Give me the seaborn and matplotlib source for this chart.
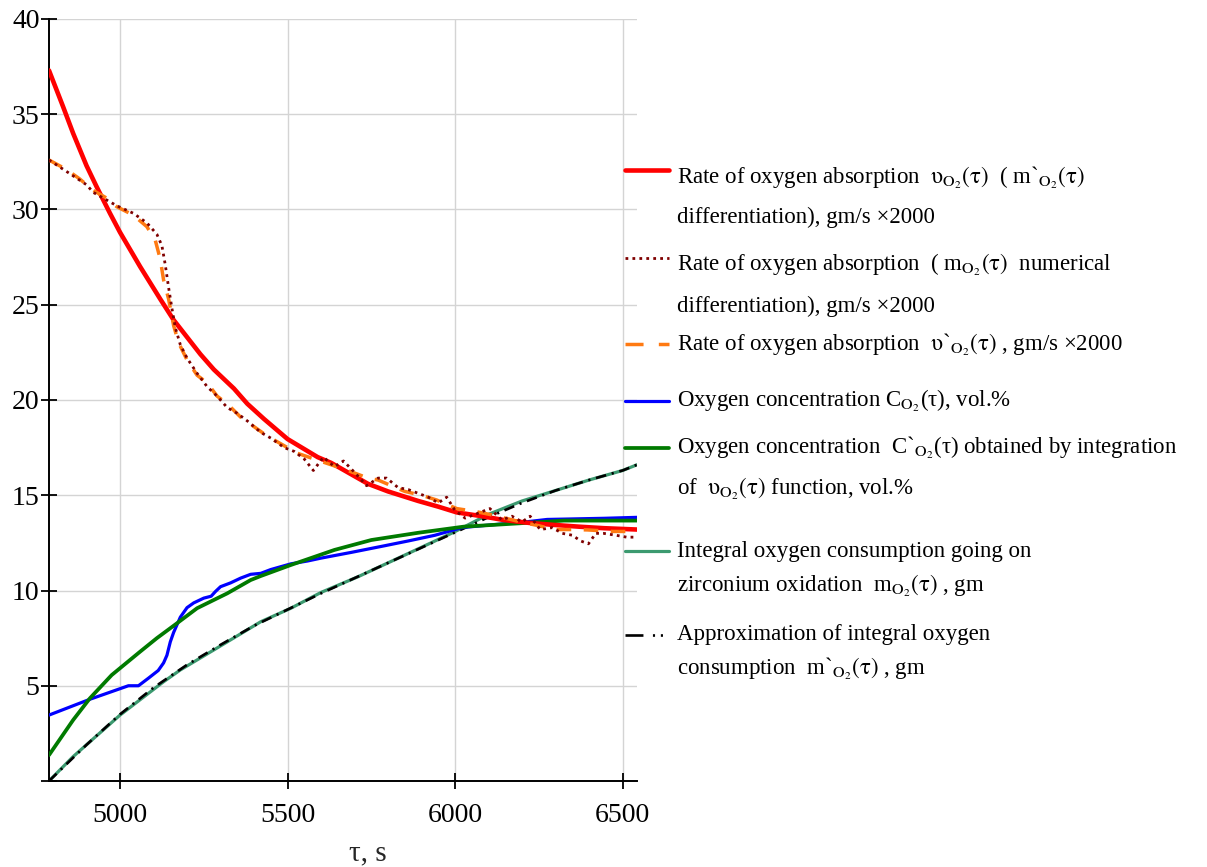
import numpy as np
import pandas as pd
import matplotlib
matplotlib.use("Agg")
import matplotlib.pyplot as plt
from matplotlib.lines import Line2D
import seaborn as sns

# ---------------- data ----------------
tau_red = [4788, 4830, 4860, 4900, 4930, 4970, 5000, 5060, 5120, 5160, 5200, 5240, 5280,
           5340, 5380, 5430, 5500, 5590, 5630, 5680, 5740, 5800, 5890, 5950, 6005, 6080,
           6145, 6220, 6290, 6370, 6445, 6543]
rate_fit = [37.3, 35.4, 34.0, 32.3, 31.2, 29.8, 28.8, 27.0, 25.3, 24.2, 23.3, 22.4, 21.6,
            20.6, 19.8, 19.0, 17.95, 17.0, 16.7, 16.2, 15.6, 15.2, 14.7, 14.4, 14.1, 13.9,
            13.7, 13.55, 13.45, 13.35, 13.27, 13.2]

tau_num = [4788, 4840, 4900, 4920, 4990, 5040, 5080, 5110, 5125, 5135, 5145, 5155, 5165,
           5180, 5200, 5230, 5260, 5290, 5320, 5350, 5380, 5420, 5450, 5490, 5520, 5550,
           5577, 5607, 5640, 5667, 5700, 5736, 5770, 5796, 5830, 5860, 5890, 5920, 5950,
           5975, 6000, 6030, 6060, 6104, 6140, 6170, 6200, 6224, 6254, 6290, 6320, 6350,
           6375, 6398, 6420, 6443, 6480, 6512, 6543]
rate_num = [32.6, 32.0, 31.3, 30.9, 30.2, 29.8, 29.3, 28.7, 28.1, 27.1, 25.9, 24.8, 23.8,
            22.9, 22.2, 21.4, 20.7, 20.2, 19.6, 19.3, 18.9, 18.3, 18.0, 17.5, 17.3, 16.9,
            16.3, 17.0, 16.5, 16.8, 16.2, 15.5, 15.9, 15.9, 15.4, 15.3, 15.1, 14.9, 14.6,
            14.9, 14.2, 13.8, 14.0, 14.3, 13.7, 13.9, 13.6, 13.9, 13.2, 13.3, 13.0, 12.9,
            12.6, 12.45, 13.0, 13.0, 12.9, 12.8, 12.8]

tau_or = [4788, 4840, 4880, 4920, 4960, 4990, 5040, 5080, 5105, 5120, 5130, 5145, 5160,
          5175, 5200, 5230, 5260, 5290, 5320, 5360, 5400, 5440, 5490, 5530, 5580, 5630,
          5680, 5740, 5770, 5850, 5900, 5945, 6005, 6060, 6115, 6195, 6250, 6295, 6350,
          6395, 6470, 6543]
rate_alt = [32.6, 32.1, 31.6, 31.0, 30.6, 30.15, 29.7, 29.1, 28.4, 27.4, 26.3, 25.3, 23.9,
            23.0, 22.1, 21.3, 20.9, 20.2, 19.8, 19.1, 18.6, 18.1, 17.6, 17.2, 16.9, 16.6,
            16.3, 15.9, 15.8, 15.2, 15.0, 14.75, 14.3, 14.15, 13.95, 13.6, 13.4, 13.2, 13.2,
            13.18, 13.1, 13.1]

tau_blue = [4788, 4910, 5025, 5055, 5085, 5114, 5130, 5140, 5150, 5160, 5180, 5200, 5220,
            5250, 5272, 5285, 5300, 5330, 5360, 5390, 5420, 5450, 5510, 5560, 5600, 5690,
            5790, 5860, 5940, 6020, 6080, 6145, 6210, 6275, 6360, 6445, 6543]
conc = [3.46, 4.29, 5.0, 5.0, 5.4, 5.8, 6.2, 6.6, 7.3, 7.8, 8.6, 9.1, 9.35,
        9.6, 9.7, 9.95, 10.2, 10.4, 10.65, 10.85, 10.9, 11.1, 11.4, 11.55, 11.7, 12.0,
        12.35, 12.6, 12.9, 13.3, 13.4, 13.5, 13.6, 13.73, 13.76, 13.79, 13.84]

tau_green = [4788, 4860, 4910, 4975, 5060, 5110, 5170, 5230, 5320, 5390, 5420, 5510, 5640,
             5750, 5890, 6025, 6195, 6325, 6543]
conc_int = [1.36, 3.2, 4.34, 5.56, 6.79, 7.5, 8.28, 9.07, 9.85, 10.55, 10.76, 11.34, 12.13,
            12.65, 13.03, 13.35, 13.53, 13.67, 13.67]

tau_teal = [4788, 4860, 5000, 5130, 5180, 5280, 5420, 5510, 5600, 5710, 5850, 5995, 6100,
            6200, 6300, 6400, 6500, 6543]
mass = [0.0, 1.28, 3.46, 5.21, 5.83, 6.88, 8.36, 9.07, 9.9, 10.72, 11.86, 13.05, 14.0,
        14.7, 15.25, 15.8, 16.3, 16.6]

tau_black = [4788, 4900, 5000, 5100, 5200, 5300, 5400, 5500, 5600, 5700, 5800, 5900, 6000,
             6100, 6200, 6300, 6400, 6500, 6543]
mass_fit = [0.0, 1.9, 3.5, 4.9, 6.1, 7.15, 8.15, 9.0, 9.85, 10.65, 11.45, 12.25, 13.05,
            13.85, 14.6, 15.25, 15.8, 16.3, 16.6]

x_ticks = [5000, 5500, 6000, 6500]
y_ticks = [0, 5, 10, 15, 20, 25, 30, 35, 40]
y_tick_labels = ["", "5", "10", "15", "20", "25", "30", "35", "40"]

U = r"\mathrm{\upsilon}"
T = r"(\mathrm{\tau})"
legend_lines = [
    [r"Rate of oxygen absorption  $" + U + r"_{\mathrm{O}_2}" + T + r"$  ( m`$_{\mathrm{O}_2}" + T + "$",
     "differentiation), gm/s ×2000"],
    [r"Rate of oxygen absorption  ( m$_{\mathrm{O}_2}" + T + "$  numerical",
     "differentiation), gm/s ×2000"],
    [r"Rate of oxygen absorption  $" + U + r"$`$_{\mathrm{O}_2}" + T + "$ , gm/s ×2000"],
    [r"Oxygen concentration C$_{\mathrm{O}_2}$(τ), vol.%"],
    [r"Oxygen concentration  C`$_{\mathrm{O}_2}$(τ) obtained by integration",
     r"of  $" + U + r"_{\mathrm{O}_2}" + T + "$ function, vol.%"],
    ["Integral oxygen consumption going on",
     r"zirconium oxidation  m$_{\mathrm{O}_2}" + T + "$ , gm"],
    ["Approximation of integral oxygen",
     r"consumption  m`$_{\mathrm{O}_2}" + T + "$ , gm"],
]

# ---------------- styling ----------------
sns.set_theme(style="white")
plt.rcParams["font.family"] = ["Liberation Serif", "DejaVu Serif"]
plt.rcParams["mathtext.fontset"] = "stix"

W, H = 1207, 867
fig = plt.figure(figsize=(W / 100, H / 100), dpi=100)
ax = fig.add_axes([49 / W, 1 - 781 / H, (637 - 49) / W, (781 - 19) / H])

C_RED = "#ff0000"
C_MAROON = "#7f0000"
C_ORANGE = "#ff7a12"
C_BLUE = "#0000ff"
C_GREEN = "#007a00"
C_TEAL = "#3c9a70"
C_BLACK = "#000000"

ls_orange = (0, (4.2, 3.6))
ls_dot = (0, (1.0, 1.5))
ls_black = (0, (4.0, 2.2, 0.8, 2.2))

series = [
    (tau_teal, mass, C_TEAL, 2.3, "-", 2),
    (tau_black, mass_fit, C_BLACK, 1.9, ls_black, 3),
    (tau_blue, conc, C_BLUE, 2.3, "-", 4),
    (tau_green, conc_int, C_GREEN, 2.7, "-", 5),
    (tau_red, rate_fit, C_RED, 3.3, "-", 6),
    (tau_or, rate_alt, C_ORANGE, 2.5, ls_orange, 7),
    (tau_num, rate_num, C_MAROON, 2.0, ls_dot, 8),
]
for xs, ys, c, lw, ls, z in series:
    df = pd.DataFrame({"tau": xs, "val": ys})
    sns.lineplot(data=df, x="tau", y="val", ax=ax, color=c, lw=lw,
                 linestyle=ls, zorder=z, estimator=None, sort=False)

ax.set_xlim(4788, 6543)
ax.set_ylim(0, 40)
ax.set_xticks(x_ticks)
ax.set_xticklabels([str(t) for t in x_ticks])
ax.set_yticks(y_ticks)
ax.set_yticklabels(y_tick_labels)
ax.tick_params(axis="both", direction="inout", length=11.5, width=1.3,
               colors="black", labelsize=20, bottom=True, left=True)
ax.tick_params(axis="y", pad=1)
ax.tick_params(axis="x", pad=10)

ax.grid(True, color="#d4d4d4", lw=1.0)
ax.set_axisbelow(True)
for s in ["top", "right"]:
    ax.spines[s].set_visible(False)
for s in ["left", "bottom"]:
    ax.spines[s].set_color("black")
    ax.spines[s].set_linewidth(1.4)

ax.set_ylabel("")
ax.set_xlabel("τ, s", fontsize=21)
ax.xaxis.set_label_coords(0.543, -0.104)
ax.xaxis.label.set_va("baseline")

# ---------------- legend (manual, Mathcad-like layout) ----------------
handle_y = [170, 258, 344, 401, 448, 551, 635]
text_base = [[184, 223], [271, 312], [351], [407], [454, 495], [557, 592], [640, 675]]
handle_styles = [
    dict(color=C_RED, lw=3.3, ls="-"),
    dict(color=C_MAROON, lw=2.0, ls=ls_dot),
    dict(color=C_ORANGE, lw=2.5, ls=(0, (5.2, 4.4))),
    dict(color=C_BLUE, lw=2.3, ls="-"),
    dict(color=C_GREEN, lw=2.7, ls="-"),
    dict(color=C_TEAL, lw=2.3, ls="-"),
    dict(color=C_BLACK, lw=1.9, ls=(0, (6.8, 3.6, 0.8, 2.2, 0.8, 20))),
]
hx0, hx1, tx = 625, 669, 677
for hy, bases, st, lines in zip(handle_y, text_base, handle_styles, legend_lines):
    fig.add_artist(Line2D([hx0 / W, hx1 / W], [1 - hy / H, 1 - hy / H],
                          transform=fig.transFigure, color=st["color"],
                          lw=st["lw"], linestyle=st["ls"]))
    for b, line in zip(bases, lines):
        fig.text(tx / W, 1 - b / H, line, fontsize=16.5, va="baseline",
                 ha="left", color="black")

fig.savefig("out.png", dpi=100)
